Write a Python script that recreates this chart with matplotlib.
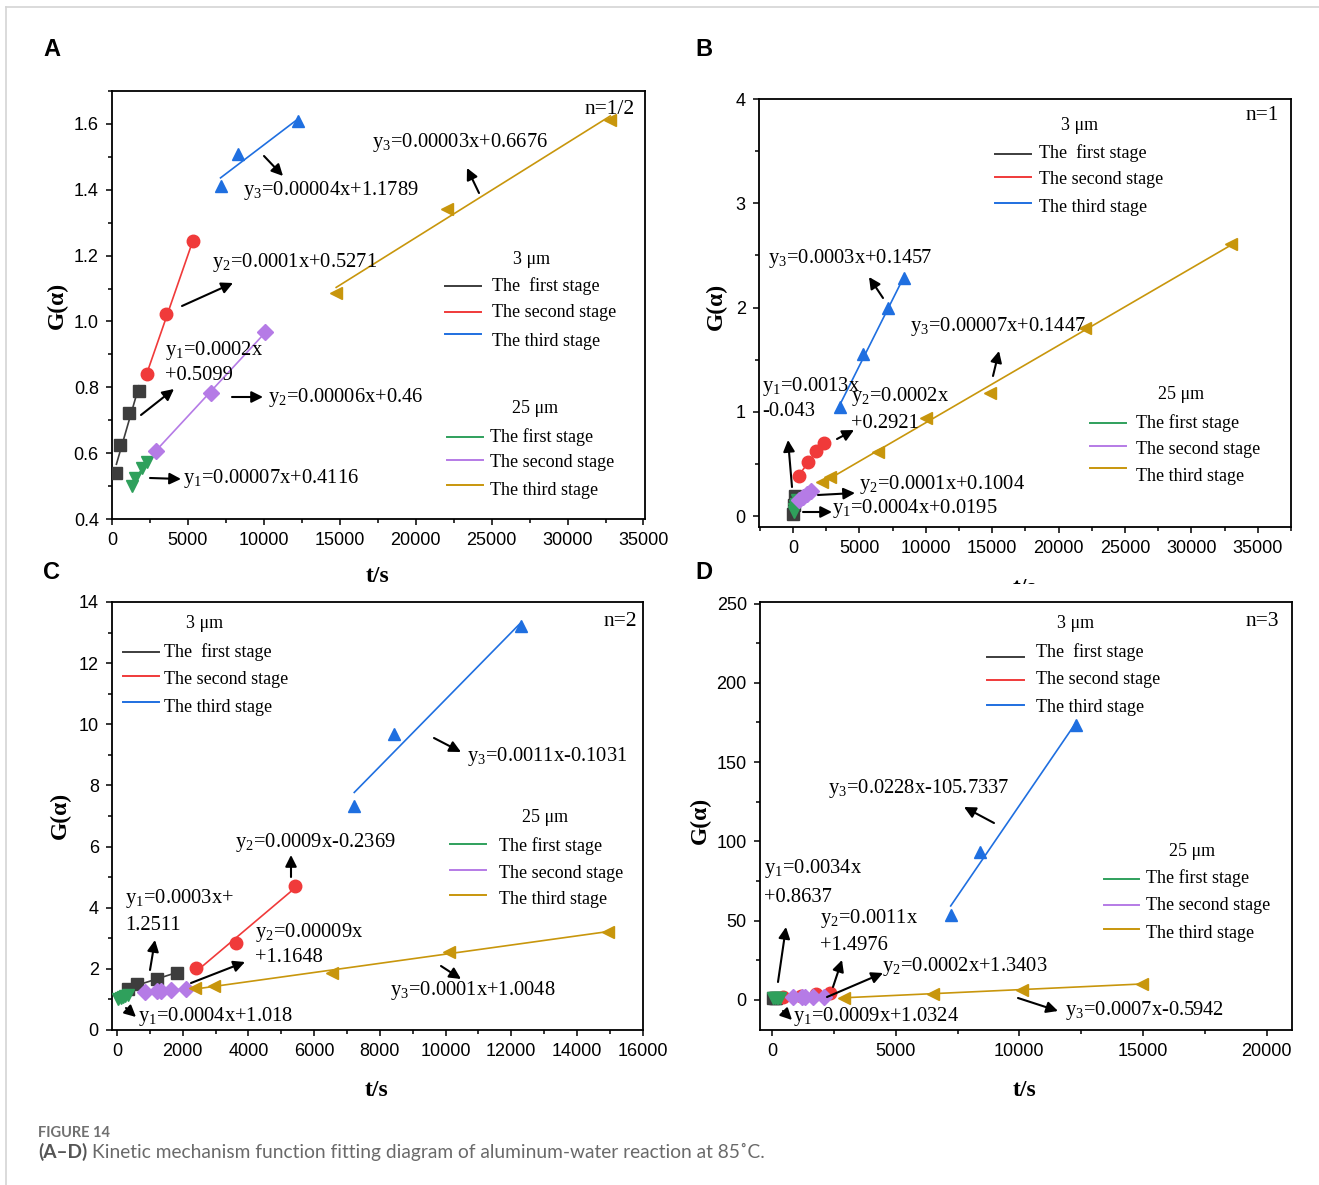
import numpy as np
import matplotlib
matplotlib.use("Agg")
import matplotlib.pyplot as plt
from matplotlib.lines import Line2D
from matplotlib.patches import Rectangle, FancyArrowPatch
from matplotlib.ticker import MultipleLocator, FormatStrFormatter

plt.rcParams['mathtext.fontset'] = 'custom'
plt.rcParams['mathtext.rm'] = 'Liberation Serif'

# ---------------- data ----------------
# Panel A (n=1/2)
a_first_3_x = [290, 534, 1127, 1785]
a_first_3_y = [0.540, 0.625, 0.722, 0.789]
a_second_3_x = [2325, 3564, 5343]
a_second_3_y = [0.840, 1.022, 1.243]
a_third_3_x = [7148, 8327, 12254]
a_third_3_y = [1.412, 1.509, 1.608]
a_first_25_x = [1304, 1522, 1963, 2332]
a_first_25_y = [0.501, 0.526, 0.556, 0.572]
a_second_25_x = [2866, 6515, 10086]
a_second_25_y = [0.608, 0.784, 0.968]
a_third_25_x = [14764, 22077, 32816]
a_third_25_y = [1.087, 1.342, 1.613]

# Panel B (n=1)
b_first_3_x = [30, 90, 150]
b_first_3_y = [0.02, 0.11, 0.19]
b_second_3_x = [450, 1150, 1760, 2340]
b_second_3_y = [0.386, 0.520, 0.626, 0.703]
b_third_3_x = [3545, 5280, 7160, 8370]
b_third_3_y = [1.045, 1.553, 1.994, 2.282]
b_first_25_x = [40, 110, 180, 250, 330]
b_first_25_y = [0.035, 0.064, 0.092, 0.120, 0.150]
b_second_25_x = [450, 750, 1050, 1350]
b_second_25_y = [0.15, 0.18, 0.21, 0.24]
b_third_25_x = [2187, 2790, 6410, 10030, 14860, 22020, 32950]
b_third_25_y = [0.326, 0.374, 0.614, 0.940, 1.180, 1.800, 2.610]

# Panel C (n=2)
c_first_3_x = [323, 615, 1215, 1814]
c_first_3_y = [1.34, 1.50, 1.66, 1.88]
c_second_3_x = [2414, 3610, 5403]
c_second_3_y = [2.02, 2.84, 4.70]
c_third_3_x = [7220, 8417, 12307]
c_third_3_y = [7.32, 9.67, 13.20]
c_first_25_x = [40, 110, 180, 250, 330]
c_first_25_y = [1.03, 1.06, 1.09, 1.12, 1.15]
c_second_25_x = [850, 1200, 1350, 1650, 2100]
c_second_25_y = [1.25, 1.28, 1.29, 1.31, 1.34]
c_third_25_x = [2359, 2937, 6541, 10112, 14940]
c_third_25_y = [1.37, 1.44, 1.86, 2.55, 3.22]

# Panel D (n=3)
d_first_3_x = [50, 110, 160]
d_first_3_y = [1.03, 1.24, 1.41]
d_second_3_x = [450, 1150, 1760, 2350]
d_second_3_y = [2.00, 2.76, 3.43, 4.08]
d_third_3_x = [7224, 8410, 12309]
d_third_3_y = [53.7, 93.6, 173.6]
d_first_25_x = [40, 110, 180, 250, 330]
d_first_25_y = [1.07, 1.13, 1.19, 1.26, 1.33]
d_second_25_x = [850, 1200, 1350, 1650, 2100]
d_second_25_y = [1.51, 1.58, 1.61, 1.67, 1.76]
d_third_25_x = [2892, 6504, 10108, 14954]
d_third_25_y = [1.5, 3.8, 6.3, 10.2]

stage_names_3 = ["The  first stage", "The second stage", "The third stage"]
stage_names_25 = ["The first stage", "The second stage", "The third stage"]

# ---------------- style ----------------
W, H = 1319, 1185
C_BLACK = '#3d3d3d'
C_RED = '#f03a3a'
C_BLUE = '#1f6fe0'
C_GREEN = '#2fa05c'
C_PURPLE = '#b57be6'
C_GOLD = '#c8960c'
SERIF = 'Liberation Serif'
SANS = 'Liberation Sans'

series_style = [
    (C_BLACK, 's', 8),
    (C_RED, 'o', 9),
    (C_BLUE, '^', 9),
    (C_GREEN, 'v', 9),
    (C_PURPLE, 'D', 8),
    (C_GOLD, '<', 9),
]

fig = plt.figure(figsize=(W / 100, H / 100), dpi=100)


def fpos(px, py):
    return (px / W, 1 - py / H)


def add_ax(l, t, r, b):
    return fig.add_axes([l / W, 1 - b / H, (r - l) / W, (b - t) / H])


def style_axes(ax, xlim, ylim, xmaj, xmin, ymaj, ymin):
    ax.set_xlim(*xlim)
    ax.set_ylim(*ylim)
    ax.xaxis.set_major_locator(MultipleLocator(xmaj))
    ax.xaxis.set_minor_locator(MultipleLocator(xmin))
    ax.yaxis.set_major_locator(MultipleLocator(ymaj))
    ax.yaxis.set_minor_locator(MultipleLocator(ymin))
    ax.tick_params(which='both', direction='out', top=False, right=False,
                   width=1.1, labelsize=13, colors='black')
    ax.tick_params(which='major', length=4.5, pad=5)
    ax.tick_params(which='minor', length=2.8)
    for lab in ax.get_xticklabels() + ax.get_yticklabels():
        lab.set_fontfamily(SANS)
    for s in ax.spines.values():
        s.set_linewidth(1.3)
        s.set_color('black')


def draw_series(ax, xs, ys, color, marker, ms):
    x = np.asarray(xs, float)
    y = np.asarray(ys, float)
    k, b0 = np.polyfit(x, y, 1)
    xx = np.array([x.min(), x.max()])
    ax.plot(xx, k * xx + b0, color=color, lw=1.2, zorder=2)
    ax.plot(x, y, linestyle='none', marker=marker, ms=ms, color=color,
            mec=color, zorder=3)


def eq_text(px, py, s, size=14.8):
    fig.text(*fpos(px, py), s, family=SERIF, fontsize=size,
             ha='left', va='center')


def arrow(tail, head):
    fig.add_artist(FancyArrowPatch(
        fpos(*tail), fpos(*head), transform=fig.transFigure,
        arrowstyle='-|>', mutation_scale=17, lw=1.5, color='black',
        shrinkA=0, shrinkB=0))


def legend_block(title_xy, line_x, line_ys, text_x, text_ys, colors, names):
    fig.text(*fpos(*title_xy), "3 μm" if names is stage_names_3 else "25 μm",
             family=SERIF, fontsize=13, ha='center', va='center')
    for ly, ty, c, n in zip(line_ys, text_ys, colors, names):
        fig.add_artist(Line2D([line_x[0] / W, line_x[1] / W],
                              [1 - ly / H, 1 - ly / H], color=c, lw=1.4,
                              transform=fig.transFigure))
        fig.text(*fpos(text_x, ty), n, family=SERIF, fontsize=13,
                 ha='left', va='center')


def panel(ax, groups):
    for (xs, ys), (c, m, ms) in zip(groups, series_style):
        draw_series(ax, xs, ys, c, m, ms)


# ---------------- Panel A ----------------
axA = add_ax(112, 91, 645, 519)
style_axes(axA, (0, 35100), (0.4, 1.7), 5000, 2500, 0.2, 0.1)
axA.yaxis.set_major_formatter(FormatStrFormatter('%.1f'))
panel(axA, [(a_first_3_x, a_first_3_y), (a_second_3_x, a_second_3_y),
            (a_third_3_x, a_third_3_y), (a_first_25_x, a_first_25_y),
            (a_second_25_x, a_second_25_y), (a_third_25_x, a_third_25_y)])

# ---------------- Panel B ----------------
axB = add_ax(759, 99, 1291, 527)
style_axes(axB, (-2560, 37500), (-0.105, 4.0), 5000, 2500, 1, 0.5)
panel(axB, [(b_first_3_x, b_first_3_y), (b_second_3_x, b_second_3_y),
            (b_third_3_x, b_third_3_y), (b_first_25_x, b_first_25_y),
            (b_second_25_x, b_second_25_y), (b_third_25_x, b_third_25_y)])

# ---------------- Panel C ----------------
axC = add_ax(112, 602, 643, 1030)
style_axes(axC, (-155, 16010), (0, 14), 2000, 1000, 2, 1)
panel(axC, [(c_first_3_x, c_first_3_y), (c_second_3_x, c_second_3_y),
            (c_third_3_x, c_third_3_y), (c_first_25_x, c_first_25_y),
            (c_second_25_x, c_second_25_y), (c_third_25_x, c_third_25_y)])

# ---------------- Panel D ----------------
axD = add_ax(760, 602, 1292, 1030)
style_axes(axD, (-490, 21030), (-19, 251), 5000, 2500, 50, 25)
panel(axD, [(d_first_3_x, d_first_3_y), (d_second_3_x, d_second_3_y),
            (d_third_3_x, d_third_3_y), (d_first_25_x, d_first_25_y),
            (d_second_25_x, d_second_25_y), (d_third_25_x, d_third_25_y)])

col3 = [C_BLACK, C_RED, C_BLUE]
col25 = [C_GREEN, C_PURPLE, C_GOLD]

# legends
legend_block((532, 259), (445, 481), (286, 312, 334), 492, (286, 313, 341), col3, stage_names_3)
legend_block((535, 408), (447, 483), (437, 460, 485), 490, (437, 463, 490), col25, stage_names_25)
legend_block((1080, 126), (995, 1031), (154, 177, 203), 1039, (153, 180, 208), col3, stage_names_3)
legend_block((1181, 395), (1090, 1126), (423, 446, 468), 1136, (423, 450, 477), col25, stage_names_25)
legend_block((205, 624), (123, 159), (652, 676, 702), 164, (652, 679, 707), col3, stage_names_3)
legend_block((545, 818), (450, 486), (844, 870, 895), 499, (846, 873, 900), col25, stage_names_25)
legend_block((1076, 624), (987, 1024), (657, 680, 705), 1036, (652, 679, 707), col3, stage_names_3)
legend_block((1192, 851), (1104, 1139), (879, 905, 929), 1146, (878, 906, 933), col25, stage_names_25)


# fitted equations
def sub(n):
    return r"y$_\mathregular{%s}$" % n


equations = [
    # panel A
    (372, 143, sub(3) + "=0.00003x+0.6676"), (243, 190, sub(3) + "=0.00004x+1.1789"),
    (212, 262, sub(2) + "=0.0001x+0.5271"), (165, 351, sub(1) + "=0.0002x"),
    (165, 376, "+0.5099"), (268, 397, sub(2) + "=0.00006x+0.46"),
    (183, 478, sub(1) + "=0.00007x+0.4116"),
    # panel B
    (768, 258, sub(3) + "=0.0003x+0.1457"), (910, 326, sub(3) + "=0.00007x+0.1447"),
    (762, 386, sub(1) + "=0.0013x"), (762, 412, "-0.043"),
    (851, 396, sub(2) + "=0.0002x"), (851, 423, "+0.2921"),
    (859, 484, sub(2) + "=0.0001x+0.1004"), (832, 509, sub(1) + "=0.0004x+0.0195"),
    # panel C
    (467, 756, sub(3) + "=0.0011x-0.1031"), (235, 842, sub(2) + "=0.0009x-0.2369"),
    (125, 899, sub(1) + "=0.0003x+"), (125, 925, "1.2511"),
    (255, 932, sub(2) + "=0.00009x"), (255, 958, "+1.1648"),
    (390, 990, sub(3) + "=0.0001x+1.0048"), (138, 1016, sub(1) + "=0.0004x+1.018"),
    # panel D
    (828, 788, sub(3) + "=0.0228x-105.7337"), (764, 869, sub(1) + "=0.0034x"),
    (764, 898, "+0.8637"), (820, 918, sub(2) + "=0.0011x"), (820, 945, "+1.4976"),
    (882, 967, sub(2) + "=0.0002x+1.3403"), (793, 1017, sub(1) + "=0.0009x+1.0324"),
    (1065, 1010, sub(3) + "=0.0007x-0.5942"),
]
for px, py, s in equations:
    eq_text(px, py, s)

arrows = [
    ((479, 193), (467, 168)), ((264, 156), (283, 176)), ((182, 306), (233, 283)),
    ((141, 415), (174, 389)), ((232, 397), (263, 397)), ((150, 478), (181, 479)),
    ((883, 298), (869, 277)), ((993, 376), (999, 351)), ((792, 487), (788, 440)),
    ((837, 439), (854, 430)), ((818, 495), (855, 493)), ((803, 512), (832, 512)),
    ((434, 738), (461, 752)), ((291, 877), (291, 855)), ((150, 970), (155, 940)),
    ((191, 983), (245, 962)), ((441, 966), (461, 979)), ((126, 1008), (136, 1017)),
    ((994, 823), (964, 807)), ((778, 982), (786, 927)), ((833, 987), (842, 960)),
    ((827, 997), (883, 973)), ((783, 1011), (792, 1020)), ((1018, 998), (1058, 1011)),
]
for t, h in arrows:
    arrow(t, h)

# n labels
for px, py, s in [(635, 109, "n=1/2"), (1279, 115, "n=1"), (637, 621, "n=2"), (1279, 622, "n=3")]:
    fig.text(*fpos(px, py), s, family=SERIF, fontsize=15.5, ha='right', va='center')

# axis titles
for px, py in [(57, 305), (716, 306), (60, 815), (700, 820)]:
    fig.text(*fpos(px, py), "G(α)", family=SERIF, fontsize=17, fontweight='bold',
             rotation=90, ha='center', va='center')
for px, py in [(378, 577), (377, 1090), (1025, 1090)]:
    fig.text(*fpos(px, py), "t/s", family=SERIF, fontsize=17, fontweight='bold',
             ha='center', va='center')
tb = fig.text(*fpos(1025, 588), "t/s", family=SERIF, fontsize=17, fontweight='bold',
              ha='center', va='center')
clip = Rectangle((0, 1 - 584 / H), 1, 584 / H, transform=fig.transFigure)
tb.set_clip_path(clip)

# panel letters
for px, py, s in [(52, 50, "A"), (704, 50, "B"), (52, 572, "C"), (704, 572, "D")]:
    fig.text(*fpos(px, py), s, family=SANS, fontsize=17, fontweight='bold',
             ha='center', va='center')

# page frame
fig.add_artist(Line2D([6 / W, 1], [1 - 7 / H, 1 - 7 / H], color='#d4d4d4', lw=1.2,
                      transform=fig.transFigure))
fig.add_artist(Line2D([6 / W, 6 / W], [0, 1 - 7 / H], color='#d4d4d4', lw=1.2,
                      transform=fig.transFigure))

# caption
fig.text(*fpos(38, 1133), "FIGURE 14", family='Lato', fontsize=10.5,
         fontweight='bold', color='#707070', ha='left', va='center')
cap1 = fig.text(*fpos(38, 1152), "(A–D)", family='Lato', fontsize=13.8,
                fontweight='bold', color='#555555', ha='left', va='center')
fig.canvas.draw()
ext = cap1.get_window_extent()
fig.text((ext.x1 + 5) / W, 1 - 1152 / H,
         "Kinetic mechanism function fitting diagram of aluminum-water reaction at 85˚C.",
         family='Lato', fontsize=13.8, color='#6a6a6a', ha='left', va='center')

fig.savefig("out.png", dpi=100)
